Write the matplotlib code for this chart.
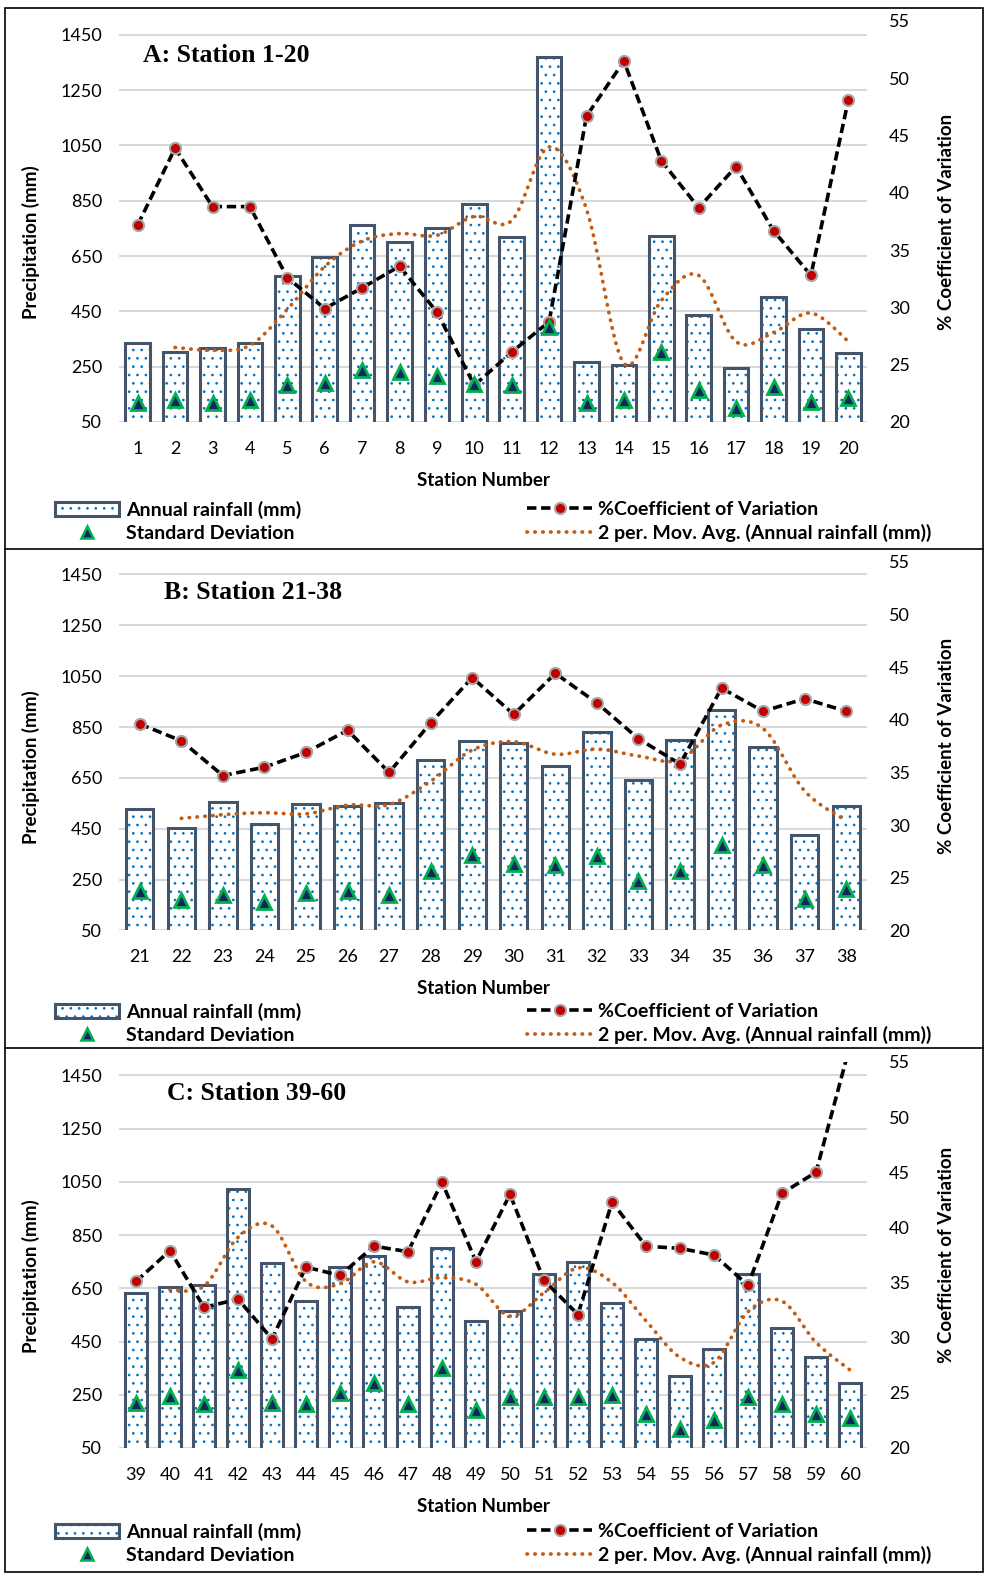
import matplotlib.pyplot as plt
import matplotlib.patches as mpatches
from matplotlib.lines import Line2D
import numpy as np
import pandas as pd

plt.rcParams['font.family'] = ['Lato', 'DejaVu Sans']
plt.rcParams['hatch.linewidth'] = 0.7

W, H = 989, 1581

# A: Station 1-20
stations_a = list(range(1, 21))
rain_a = [337, 302, 317, 337, 578, 646, 763, 700, 750, 837, 719, 1371, 268, 256, 723, 437, 244, 503, 385, 298]
sd_a = [120, 130, 120, 130, 184, 190, 238, 232, 216, 187, 184, 392, 120, 130, 304, 166, 100, 178, 123, 136]
cv_a = [37.2, 43.9, 38.8, 38.8, 32.6, 29.9, 31.7, 33.6, 29.6, 23.2, 26.1, 28.75, 46.7, 51.5, 42.8, 38.7, 42.3, 36.7, 32.8, 48.1]

# B: Station 21-38
stations_b = list(range(21, 39))
rain_b = [528, 454, 557, 469, 548, 538, 552, 722, 797, 788, 698, 829, 643, 800, 915, 773, 424, 540]
sd_b = [207, 168, 190, 164, 198, 207, 188, 283, 345, 312, 306, 341, 243, 282, 388, 308, 175, 214]
cv_b = [39.6, 38.0, 34.7, 35.5, 36.9, 39.0, 35.0, 39.7, 44.0, 40.5, 44.4, 41.6, 38.2, 35.8, 43.0, 40.8, 42.0, 40.8]

# C: Station 39-60
stations_c = list(range(39, 61))
rain_c = [633, 655, 661, 1022, 746, 604, 729, 770, 578, 802, 528, 563, 704, 749, 595, 460, 321, 422, 702, 501, 392, 294]
sd_c = [218, 246, 215, 344, 218, 215, 256, 294, 216, 350, 193, 240, 243, 240, 250, 177, 122, 155, 243, 215, 177, 164]
cv_c = [35.1, 37.9, 32.75, 33.5, 29.9, 36.4, 35.65, 38.3, 37.8, 44.1, 36.9, 43.0, 35.2, 32.1, 42.3, 38.3, 38.1, 37.5, 34.75, 43.1, 45.0, 56.5]

left_ticks = list(range(50, 1451, 200))
right_ticks = list(range(20, 56, 5))

BAR_EDGE = '#44546A'
DOT_BLUE = '#0070C0'
MA_ORANGE = '#C55A11'
CV_DASH = (0, (2.6, 1.3))
MA_DOTS = (0, (0.1, 2.0))


def smooth_curve(xv, yv, steps=16):
    # Excel style smoothed line (Catmull-Rom)
    xv = np.asarray(xv, float)
    yv = np.asarray(yv, float)
    px = np.r_[xv[0], xv, xv[-1]]
    py = np.r_[yv[0], yv, yv[-1]]
    t = np.linspace(0, 1, steps)
    out_x, out_y = [], []
    for i in range(1, len(px) - 2):
        for p, out in ((px, out_x), (py, out_y)):
            p0, p1, p2, p3 = p[i - 1:i + 3]
            out.extend(0.5 * (2 * p1 + (p2 - p0) * t + (2 * p0 - 5 * p1 + 4 * p2 - p3) * t ** 2
                              + (3 * p1 - p0 - 3 * p2 + p3) * t ** 3))
    return np.array(out_x), np.array(out_y)


fig = plt.figure(figsize=(W / 100, H / 100), dpi=100)


def draw_panel(stations, rain, sd, cv, title, top, bottom, title_xy, leg_y):
    n = len(stations)
    x = np.arange(n)
    ax = fig.add_axes([119 / W, 1 - bottom / H, (867 - 119) / W, (bottom - top) / H])
    ax.bar(x, rain, width=0.66, color='white', edgecolor=DOT_BLUE, hatch='..', linewidth=0, zorder=2)
    ax.bar(x, rain, width=0.66, fill=False, edgecolor=BAR_EDGE, linewidth=2.2, zorder=2.1)

    ma = pd.Series(rain, dtype=float).rolling(2).mean().to_numpy()
    mx, my = smooth_curve(x[1:], ma[1:])
    ax.plot(mx, my, color=MA_ORANGE, lw=2.7, ls=MA_DOTS, dash_capstyle='round', zorder=3)

    ax.set_xlim(-0.5, n - 0.5)
    ax.set_ylim(50, 1500)
    ax.set_yticks(left_ticks)
    ax.set_xticks(x)
    ax.set_xticklabels([str(s) for s in stations])
    ax.grid(axis='y', color='#D9D9D9', lw=1.5)
    ax.set_axisbelow(True)
    for s in ax.spines.values():
        s.set_visible(False)
    ax.tick_params(axis='y', length=0, labelsize=13, pad=12)
    ax.tick_params(axis='x', length=0, labelsize=13, pad=13.5)

    ax2 = ax.twinx()
    ax2.plot(x, cv, color='black', lw=2.6, ls=CV_DASH, marker='o', ms=8,
             mfc='#C00000', mec='#A6A6A6', mew=1.5, zorder=3)
    ax2.plot(x, sd, ls='none', marker='^', ms=9.5, mfc='#14265E', mec='#00B050', mew=2,
             transform=ax.transData, zorder=4)
    ax2.set_ylim(20, 55)
    ax2.set_yticks(right_ticks)
    ax2.set_xlim(-0.5, n - 0.5)
    for s in ax2.spines.values():
        s.set_visible(False)
    ax2.tick_params(axis='y', length=0, labelsize=13, pad=16)

    mid = (top + bottom) / 2
    fig.text(31 / W, 1 - (mid + 21) / H, 'Precipitation (mm)', rotation=90, ha='center', va='center',
             fontsize=13.5, fontweight='bold')
    fig.text(946 / W, 1 - mid / H, '% Coefficient of Variation', rotation=90, ha='center', va='center',
             fontsize=13.5, fontweight='bold')
    fig.text(483 / W, 1 - (bottom + 58) / H, 'Station Number', ha='center', va='center',
             fontsize=13.5, fontweight='bold')
    fig.text(title_xy[0] / W, 1 - title_xy[1] / H, title, ha='left', va='center',
             family='Liberation Serif', fontweight='bold', fontsize=18.5)

    bar_h = (mpatches.Patch(facecolor='white', edgecolor=DOT_BLUE, hatch='..', linewidth=0),
             mpatches.Patch(fill=False, edgecolor=BAR_EDGE, linewidth=2.2))
    sd_h = Line2D([], [], ls='none', marker='^', ms=8, mfc='#14265E', mec='#00B050', mew=1.8)
    cv_h = Line2D([], [], color='black', lw=2.6, ls=CV_DASH, marker='o', ms=8,
                  mfc='#C00000', mec='#A6A6A6', mew=1.5)
    ma_h = Line2D([], [], color=MA_ORANGE, lw=2.7, ls=MA_DOTS, dash_capstyle='round')
    common = dict(frameon=False, borderpad=0, borderaxespad=0, labelspacing=0.3,
                  loc='upper left', prop={'weight': 'bold', 'size': 14})
    fig.legend([bar_h, sd_h], ['Annual rainfall (mm)', 'Standard Deviation'],
               bbox_to_anchor=(55 / W, 1 - (leg_y - 7) / H), handlelength=3.3, handletextpad=0.36,
               **common)
    fig.legend([cv_h, ma_h], ['%Coefficient of Variation', '2 per. Mov. Avg. (Annual rainfall (mm))'],
               bbox_to_anchor=(527 / W, 1 - (leg_y - 7) / H), handlelength=3.35, handletextpad=0.3,
               **common)


draw_panel(stations_a, rain_a, sd_a, cv_a, 'A: Station 1-20', 21, 422, (143, 55), 508)
draw_panel(stations_b, rain_b, sd_b, cv_b, 'B: Station 21-38', 561.7, 930.5, (164, 593), 1010)
draw_panel(stations_c, rain_c, sd_c, cv_c, 'C: Station 39-60', 1062, 1448, (167, 1094), 1530)

# panel frames
fig.add_artist(mpatches.Rectangle((5 / W, 1 - 1572 / H), 978 / W, 1564 / H, transform=fig.transFigure,
                                  fill=False, ec='black', lw=1.2))
for yy in (549, 1048):
    fig.add_artist(Line2D([5 / W, 983 / W], [1 - yy / H, 1 - yy / H], transform=fig.transFigure,
                          color='black', lw=1.2))

fig.savefig('out.png', dpi=100)
